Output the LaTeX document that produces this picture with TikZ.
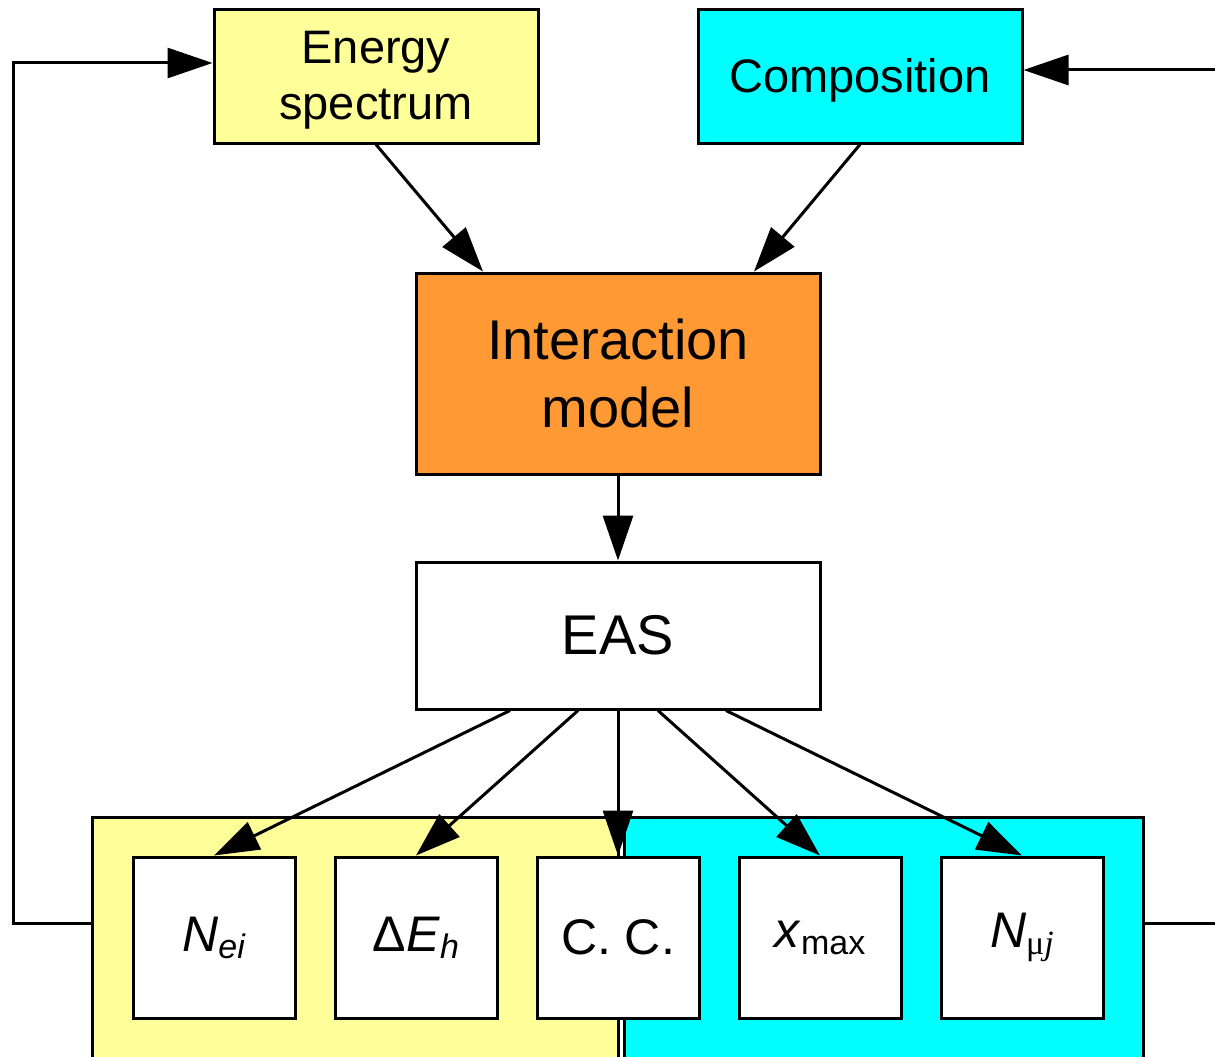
\documentclass[tikz,border=0pt]{standalone}
\usepackage{fontspec}
\setmainfont{Liberation Sans}
\newfontfamily\serifmu{Liberation Serif}
\usetikzlibrary{arrows.meta,calc}
\definecolor{paleyellow}{HTML}{FFFF99}
\definecolor{aqua}{HTML}{00FFFF}
\definecolor{tangerine}{HTML}{FF9933}
\newcommand\lowsub[1]{\raisebox{-7pt}{\fontsize{34}{40}\selectfont #1}}
\newcommand\dropline[1]{\raisebox{-4pt}[\height][\depth]{#1}}

\begin{document}
\begin{tikzpicture}[x=1pt, y=-1pt, line width=3pt,
  box/.style={rectangle, draw, line width=3pt, inner sep=0pt, align=center},
  qbox/.style={box, fill=white, minimum width=162pt, minimum height=161pt, font=\fontsize{50}{60}\selectfont},
  arr/.style={-{Triangle[length=45pt, width=30pt]}}]

\useasboundingbox (0,0) rectangle (1215,1057);

%Energy spectrum
\node[box, fill=paleyellow, minimum width=324pt, minimum height=133pt, font=\fontsize{47}{56}\selectfont] (energy) at (376,76.5) {\dropline{Energy}\\\dropline{spectrum}};

%Composition
\node[box, fill=aqua, minimum width=324pt, minimum height=133pt, font=\fontsize{47}{56}\selectfont] (composition) at (860,76.5) {\dropline{Composition}};

%Interaction model
\node[box, fill=tangerine, minimum width=404pt, minimum height=201pt, font=\fontsize{56}{68}\selectfont] (interaction) at (618,373.5) {Interaction\\model};

%EAS
\node[box, fill=white, minimum width=404pt, minimum height=147pt, font=\fontsize{56}{68}\selectfont] (eas) at (618,635.5) {EAS};

%Observable groups
\node[box, fill=paleyellow, minimum width=526pt, minimum height=260pt] (yellowbg) at (355,947) {};
\node[box, fill=aqua, minimum width=519pt, minimum height=260pt] (cyanbg) at (883.5,947) {};

%Observables
\node[qbox] (nei) at (214,937.5) {\textit{N}\lowsub{\textit{ei}}};
\node[qbox] (deh) at (416,937.5) {Δ\textit{E}\lowsub{\textit{h}}};
\node[qbox] (cc) at (618,937.5) {C. C.};
\node[qbox] (xmax) at (820,937.5) {\textit{x}\lowsub{max}};
\node[qbox] (nmuj) at (1022,937.5) {\textit{N}\lowsub{\serifmu μ\textit{j}}};

%Model chain
\draw[arr] (energy.south) -- ($(interaction.north)+(-135,0)$);
\draw[arr] (composition.south) -- ($(interaction.north)+(136,0)$);
\draw[arr] (interaction) -- (eas);

%EAS to observables
\draw[arr] ($(eas.south)+(-108,0)$) -- (nei.north);
\draw[arr] ($(eas.south)+(-40,0)$) -- (deh.north);
\draw[arr] (eas.south) -- (cc.north);
\draw[arr] ($(eas.south)+(40,0)$) -- (xmax.north);
\draw[arr] ($(eas.south)+(108,0)$) -- (nmuj.north);

%Feedback
\coordinate (leftturn) at (13,923);
\coordinate (rightout) at (1215,923);
\coordinate (rightin) at (1215,70);
\draw[arr] (yellowbg.west |- leftturn) -- (leftturn) |- ([yshift=13.5pt]energy.west);
\draw (cyanbg.east |- rightout) -- (rightout);
\draw[arr] (rightin) -- (composition.east |- rightin);

\end{tikzpicture}
\end{document}
